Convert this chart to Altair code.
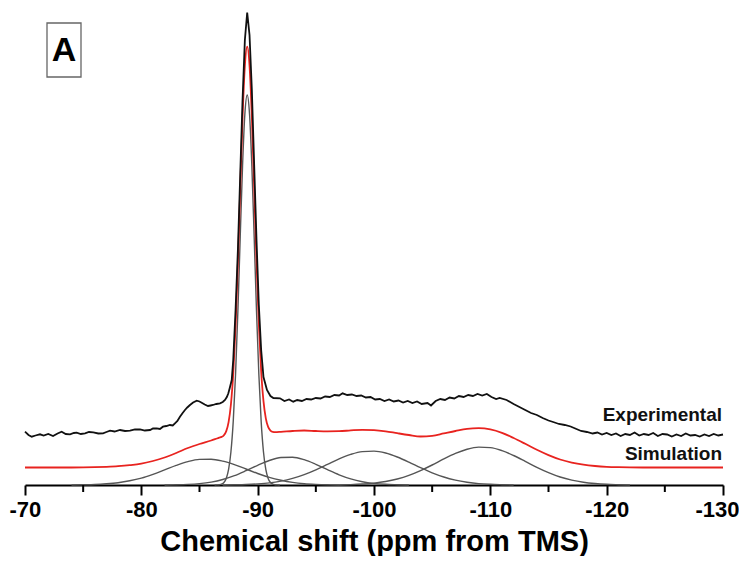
import altair as alt
import pandas as pd

# ---------------- data (ppm, intensity above baseline) ----------------
exp_ppm = [-70.0, -70.3, -70.58, -70.9, -71.29, -71.6, -72.0, -72.41, -72.8, -73.15, -73.5, -73.87,
           -74.2, -74.44, -74.8, -75.16, -75.5, -75.87, -76.3, -76.71, -77.0, -77.31, -77.7, -78.17,
           -78.6, -79.03, -79.45, -79.89, -80.3, -80.75, -81.0, -81.32, -81.6, -81.86, -82.15, -82.46,
           -82.7, -82.89, -83.1, -83.32, -83.55, -83.75, -83.95, -84.18, -84.45, -84.76, -85.0, -85.19,
           -85.45, -85.73, -85.95, -86.16, -86.45, -86.76, -87.0, -87.19, -87.35, -87.48, -87.6, -87.77,
           -87.9, -88.1, -88.3, -88.5, -88.7, -88.9, -89.1, -89.3, -89.5, -89.7, -89.9, -90.1, -90.3,
           -90.5, -90.8, -91.1, -91.35, -91.92, -92.3, -92.7, -93.06, -93.4, -93.8, -94.2, -94.6, -95.0,
           -95.4, -95.8, -96.2, -96.6, -97.0, -97.3, -97.7, -98.1, -98.5, -98.9, -99.3, -99.7, -100.1,
           -100.5, -100.9, -101.3, -101.7, -102.1, -102.5, -102.9, -103.3, -103.7, -104.1, -104.6,
           -104.9, -105.3, -105.7, -106.1, -106.5, -106.9, -107.3, -107.7, -108.1, -108.5, -108.9,
           -109.3, -109.7, -110.1, -110.5, -110.8, -111.4, -112.0, -112.5, -113.0, -113.5, -114.0,
           -114.5, -115.0, -115.4, -115.9, -116.4, -116.9, -117.4, -117.8, -118.3, -118.8, -119.2,
           -119.6, -120.0, -120.4, -120.8, -121.2, -121.6, -122.0, -122.4, -122.8, -123.2, -123.6,
           -124.0, -124.4, -124.8, -125.2, -125.6, -126.0, -126.4, -126.8, -127.2, -127.6, -128.0,
           -128.4, -128.8, -129.2, -129.6, -130.0]
exp_int = [53.3, 50.0, 48.3, 49.5, 50.7, 49.5, 51.0, 49.0, 51.5, 53.3, 51.0, 50.7,
           52.0, 52.3, 51.0, 51.7, 53.0, 52.7, 51.5, 51.7, 53.0, 54.3, 53.5, 55.0,
           54.0, 54.3, 55.5, 55.7, 54.5, 55.0, 56.5, 56.7, 56.0, 58.3, 59.0, 60.0,
           59.5, 61.7, 64.0, 68.3, 72.0, 75.0, 77.5, 80.0, 82.5, 84.3, 83.5, 82.3,
           80.5, 79.0, 79.5, 80.0, 81.0, 81.7, 83.0, 85.0, 88.0, 91.7, 97.0, 105.0,
           125.0, 175.0, 235.0, 310.0, 385.0, 445.0, 472.5, 450.0, 395.0, 320.0, 245.0, 180.0, 135.0,
           108.0, 95.0, 89.0, 87.0, 86.7, 84.0, 85.5, 83.3, 85.0, 84.0, 86.0, 85.5, 87.0,
           86.5, 88.5, 88.0, 90.0, 89.5, 91.7, 90.0, 90.5, 89.0, 89.5, 87.5, 88.0, 85.5,
           86.0, 84.0, 85.5, 83.5, 84.5, 82.5, 84.0, 82.0, 83.5, 81.0, 82.0,
           79.5, 84.0, 86.0, 85.0, 87.5, 86.5, 89.0, 88.0, 90.0, 89.0, 91.0,
           89.5, 91.0, 88.0, 86.0, 87.0, 85.0, 81.0, 78.0, 75.0, 72.0, 70.0,
           67.0, 64.5, 63.0, 61.0, 60.0, 58.5, 56.0, 54.0, 53.0, 51.5, 52.5,
           50.5, 52.0, 50.0, 51.5, 49.0, 51.0, 50.0, 52.5, 49.5, 51.0, 50.0,
           52.0, 49.0, 51.0, 50.5, 48.5, 50.5, 49.0, 51.5, 49.5, 50.0, 48.5,
           50.5, 49.0, 51.0, 49.5, 50.5]

sim_ppm = [-70, -72, -74, -76, -77, -78, -79, -80, -81, -82, -83, -84, -85, -86, -86.5,
           -86.7, -86.9, -87.1, -87.3, -87.5, -87.7, -87.9, -88.1, -88.3, -88.5, -88.7, -88.9,
           -89.1, -89.3, -89.5, -89.7, -89.9, -90.1, -90.3, -90.5, -90.7, -90.9, -91.1, -91.3, -91.5,
           -92, -93, -94, -95, -96, -97, -98, -99, -100, -101, -102, -103, -104, -105, -106, -107,
           -108, -109, -110, -111, -112, -113, -114, -115, -116, -117, -118, -119, -120, -121, -122,
           -124, -126, -128, -130]
sim_int = [17.5, 17.5, 17.5, 17.8, 18.2, 18.8, 19.8, 21.3, 24.0, 27.5, 32.0, 37.0, 41.0, 44.5, 46.5,
           47.3, 48.1, 49.8, 53.9, 62.9, 80.5, 111.2, 158.6, 221.7, 295.9, 367.1, 419.2,
           438.3, 419.6, 367.9, 297.2, 223.7, 160.9, 114.0, 83.8, 66.7, 58.1, 54.4, 53.1, 52.9,
           53.2, 54.0, 54.5, 54.0, 53.7, 53.8, 54.6, 55.2, 54.9, 53.7, 51.8, 50.0, 48.5, 49.2, 51.6, 54.0,
           56.1, 56.8, 55.6, 52.2, 47.0, 41.2, 35.2, 29.9, 25.5, 22.4, 20.3, 19.0, 18.2, 17.8, 17.6,
           17.5, 17.5, 17.5, 17.5]

# fitted components
c0_ppm = [-86.3, -86.5, -86.7, -86.9, -87.1, -87.3, -87.5, -87.7, -87.9, -88.1, -88.3, -88.5, -88.7,
          -88.9, -89.1, -89.3, -89.5, -89.7, -89.9, -90.1, -90.3, -90.5, -90.7, -90.9, -91.1,
          -91.3, -91.5, -91.7, -91.9]
c0_int = [0, 0.1, 0.3, 0.9, 2.5, 6.6, 15.6, 33, 63.6, 111, 174, 248, 319,
          371, 390, 371, 319, 248, 174, 111, 63.6, 33, 15.6, 6.6, 2.5,
          0.9, 0.3, 0.1, 0]
c1_ppm = [-74, -75, -76, -77, -78, -79, -80, -81, -82, -83, -84, -85, -86, -87, -88, -89, -90,
          -91, -92, -93, -94, -95, -96, -97]
c1_int = [0, 0.2, 0.5, 1.2, 2.3, 4.2, 6.9, 10.7, 15.1, 19.6, 23.4, 25.6, 25.8, 23.9, 20.4, 16.0, 11.5,
          7.6, 4.7, 2.6, 1.3, 0.6, 0.2, 0]
c2_ppm = [-82, -83, -84, -85, -86, -87, -88, -89, -90, -91, -92, -93, -94, -95, -96, -97, -98,
          -99, -100, -101, -102, -103]
c2_int = [0, 0.2, 0.6, 1.4, 2.9, 5.5, 9.3, 14.3, 19.7, 24.5, 27.5, 27.8, 25.3, 20.7, 15.3, 10.2, 6.1,
          3.3, 1.6, 0.7, 0.3, 0]
c3_ppm = [-87, -88, -89, -90, -91, -92, -93, -94, -95, -96, -97, -98, -99, -100, -101, -102, -103,
          -104, -105, -106, -107, -108, -109, -110, -111, -112]
c3_int = [0, 0.2, 0.5, 1.1, 2.1, 3.9, 6.6, 10.4, 15.2, 20.6, 26.1, 30.6, 33.4, 33.9, 32.0, 28.0, 22.9,
          17.3, 12.2, 8.0, 4.9, 2.8, 1.4, 0.7, 0.3, 0]
c4_ppm = [-97, -98, -99, -100, -101, -102, -103, -104, -105, -106, -107, -108, -109, -110, -111,
          -112, -113, -114, -115, -116, -117, -118, -119, -120, -121, -122]
c4_int = [0, 0.4, 1.0, 1.9, 3.5, 6.0, 9.6, 14.4, 20.0, 26.1, 31.6, 35.8, 37.9, 37.4, 34.4,
          29.5, 23.7, 17.7, 12.4, 8.0, 4.9, 2.8, 1.5, 0.7, 0.3, 0]

major_ticks = [-70, -80, -90, -100, -110, -120, -130]
minor_ticks = [-75, -85, -95, -105, -115, -125]
curve_labels = ["Experimental", "Simulation"]
panel_label = "A"
x_title = "Chemical shift (ppm from TMS)"

# ---------------- tables ----------------
exp_df = pd.DataFrame({"ppm": exp_ppm, "val": exp_int})
sim_df = pd.DataFrame({"ppm": sim_ppm, "val": sim_int})
comp_frames = []
for name, pp, vv in [("c0", c0_ppm, c0_int), ("c1", c1_ppm, c1_int), ("c2", c2_ppm, c2_int),
                     ("c3", c3_ppm, c3_int), ("c4", c4_ppm, c4_int)]:
    comp_frames.append(pd.DataFrame({"ppm": pp, "val": vv, "comp": name}))
comp_df = pd.concat(comp_frames, ignore_index=True)
minor_df = pd.DataFrame({"ppm": minor_ticks})
one_row = pd.DataFrame({"k": [0]})

FONT = "Liberation Sans"

x_enc = alt.X(
    "ppm:Q",
    scale=alt.Scale(domain=[-130, -70], reverse=True, nice=False, zero=False),
    axis=alt.Axis(
        values=major_ticks,
        labelExpr="'' + datum.value",
        title=x_title,
        titleFont=FONT, titleFontSize=29, titleFontWeight="bold", titleColor="black",
        titleBaseline="alphabetic", titleY=65,
        labelFont=FONT, labelFontSize=22, labelFontWeight="bold", labelColor="black",
        labelPadding=4, labelFlush=True, labelFlushOffset=16, labelOverlap=False,
        tickSize=10, tickWidth=2, tickColor="black",
        domainWidth=2, domainColor="black", grid=False,
    ),
)
y_enc = alt.Y("val:Q", scale=alt.Scale(domain=[0, 475], nice=False, zero=True), axis=None)
order_enc = alt.Order("ppm:Q", sort="descending")

comps = alt.Chart(comp_df).mark_line(color="#555555", strokeWidth=1.4, interpolate="monotone").encode(
    x=x_enc, y=y_enc, detail="comp:N", order=order_enc)
sim = alt.Chart(sim_df).mark_line(color="#e8231f", strokeWidth=1.8, interpolate="monotone").encode(
    x=x_enc, y=y_enc, order=order_enc)
exp = alt.Chart(exp_df).mark_line(color="#111111", strokeWidth=1.8).encode(
    x=x_enc, y=y_enc, order=order_enc)

minor = alt.Chart(minor_df).mark_rule(color="black", strokeWidth=2).encode(
    x=x_enc, y=alt.value(475), y2=alt.value(482))

lab_exp = alt.Chart(one_row).mark_text(font=FONT, fontSize=19, fontWeight="bold", align="right",
                                       baseline="alphabetic", color="#111111").encode(
    x=alt.value(697), y=alt.value(411), text=alt.value(curve_labels[0]))
lab_sim = alt.Chart(one_row).mark_text(font=FONT, fontSize=19, fontWeight="bold", align="right",
                                       baseline="alphabetic", color="#111111").encode(
    x=alt.value(697), y=alt.value(450), text=alt.value(curve_labels[1]))

box = alt.Chart(one_row).mark_rect(fill="white", stroke="#666666", strokeWidth=1.3).encode(
    x=alt.value(22), x2=alt.value(56), y=alt.value(13), y2=alt.value(67))
box_txt = alt.Chart(one_row).mark_text(font=FONT, fontSize=34, fontWeight="bold", align="center",
                                       baseline="middle", color="black").encode(
    x=alt.value(39), y=alt.value(41), text=alt.value(panel_label))

chart = alt.layer(comps, sim, exp, minor, lab_exp, lab_sim, box, box_txt).properties(
    width=698, height=475,
    autosize=alt.AutoSizeParams(type="none"),
    padding={"left": 17, "top": 2, "right": 16, "bottom": 71},
).configure_view(stroke=None)

chart.save("out.html", embed_options={"renderer": "svg", "actions": False})
